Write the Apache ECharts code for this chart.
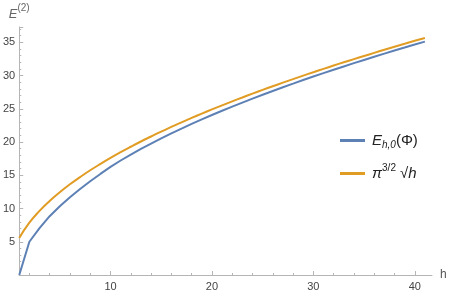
<!DOCTYPE html>
<html>
<head>
<meta charset="utf-8">
<script src="https://cdn.jsdelivr.net/npm/echarts@6/dist/echarts.min.js"></script>
<style>html,body{margin:0;padding:0;background:#fff}#c{width:450px;height:294px}</style>
</head>
<body>
<div id="c"></div>
<script>
var hValues = [1,2,3,4,5,6,7,8,9,10,11,12,13,14,15,16,17,18,19,20,21,22,23,24,25,26,27,28,29,30,31,32,33,34,35,36,37,38,39,40,41];
var energyE = [0,5.00,7.04,8.84,10.35,11.69,12.93,14.10,15.20,16.26,17.22,18.11,18.96,19.76,20.55,21.29,22.02,22.72,23.40,24.06,24.71,25.33,25.93,26.53,27.11,27.68,28.24,28.78,29.33,29.85,30.36,30.87,31.37,31.86,32.34,32.82,33.29,33.76,34.21,34.67,35.10];
var piSqrt = [5.57,7.87,9.64,11.14,12.45,13.64,14.73,15.75,16.70,17.61,18.47,19.29,20.08,20.83,21.57,22.27,22.96,23.62,24.27,24.90,25.52,26.12,26.70,27.28,27.84,28.39,28.93,29.46,29.99,30.50,31.00,31.50,31.99,32.47,32.94,33.41,33.87,34.33,34.77,35.22,35.65];
var xMajorTicks = [10,20,30,40];
var xMinorTicks = [2,4,6,8,12,14,16,18,22,24,26,28,32,34,36,38];
var yTickLabels = [5,10,15,20,25,30,35];
var seriesNames = ['E', 'P'];

function pairs(xs, ys){ return xs.map(function(x,i){return [x, ys[i]];}); }

var FONT = '"Liberation Sans", Arial, sans-serif';
var axisGray = '#b5b5b5';
var labelColor = '#444';

var chart = echarts.init(document.getElementById('c'), null, {renderer:'canvas'});
chart.setOption({
  animation:false,
  backgroundColor:'#fff',
  textStyle:{fontFamily:FONT},
  grid:{left:17, right:18, top:27, bottom:19, containLabel:false},
  xAxis:[{
    type:'value', min:1, max:41.7,
    name:'h', nameLocation:'end', nameGap:8,
    nameTextStyle:{color:'#555', fontSize:12, fontFamily:FONT},
    axisLine:{show:true, onZero:false, lineStyle:{color:axisGray, width:1}},
    axisTick:{show:true, inside:true, length:4, customValues:xMajorTicks, lineStyle:{color:axisGray}},
    axisLabel:{show:true, customValues:xMajorTicks, color:labelColor, fontSize:11, margin:6, fontFamily:FONT},
    splitLine:{show:false}
  },{
    type:'value', min:1, max:41.7, position:'bottom',
    axisLine:{show:false},
    axisTick:{show:true, inside:true, length:2, customValues:xMinorTicks, lineStyle:{color:axisGray}},
    axisLabel:{show:false},
    splitLine:{show:false}
  }],
  yAxis:{
    type:'value', min:0, max:37.3, interval:5,
    name:'{e|E}{s|(2)}', nameLocation:'end', nameGap:6,
    nameTextStyle:{color:'#555', fontFamily:FONT, rich:{
      e:{fontSize:13, color:'#666', fontStyle:'italic', lineHeight:18, verticalAlign:'bottom', fontFamily:FONT},
      s:{fontSize:10, color:'#666', lineHeight:12, verticalAlign:'top', fontFamily:FONT}
    }},
    axisLine:{show:true, onZero:false, lineStyle:{color:axisGray, width:1}},
    axisTick:{show:true, inside:true, length:4, lineStyle:{color:axisGray}},
    minorTick:{show:true, splitNumber:5, length:2, lineStyle:{color:axisGray}},
    axisLabel:{color:labelColor, fontSize:11, margin:4, fontFamily:FONT, customValues:yTickLabels},
    splitLine:{show:false}
  },
  legend:{
    orient:'vertical', left:335, top:128, itemWidth:25, itemHeight:3, itemGap:13,
    icon:'rect', data:seriesNames,
    formatter:function(n){
      return n === 'E' ? '{i|E}{sub|h,0}{n|(Φ)}' : '{i|π}{sup|3/2}{n| √}{ih|h}';
    },
    textStyle:{color:'#222', fontFamily:FONT, padding:[0,0,0,2], rich:{
      i:{fontSize:15, fontStyle:'italic', lineHeight:20, color:'#222', fontFamily:FONT},
      ih:{fontSize:15, fontStyle:'italic', lineHeight:20, color:'#222', fontFamily:FONT},
      n:{fontSize:15, lineHeight:20, color:'#222', fontFamily:FONT},
      sub:{fontSize:10, fontStyle:'italic', lineHeight:12, verticalAlign:'bottom', color:'#222', fontFamily:FONT},
      sup:{fontSize:10, lineHeight:12, verticalAlign:'top', color:'#222', fontFamily:FONT}
    }}
  },
  series:[{
    name:'E', type:'line', xAxisIndex:0, data:pairs(hValues, energyE),
    showSymbol:false, symbol:'none', smooth:false,
    itemStyle:{color:'#5E81B5'}, lineStyle:{color:'#5E81B5', width:2}
  },{
    name:'P', type:'line', xAxisIndex:0, data:pairs(hValues, piSqrt),
    showSymbol:false, symbol:'none', smooth:true,
    itemStyle:{color:'#E19C24'}, lineStyle:{color:'#E19C24', width:2}
  }]
});
</script>
</body>
</html>
